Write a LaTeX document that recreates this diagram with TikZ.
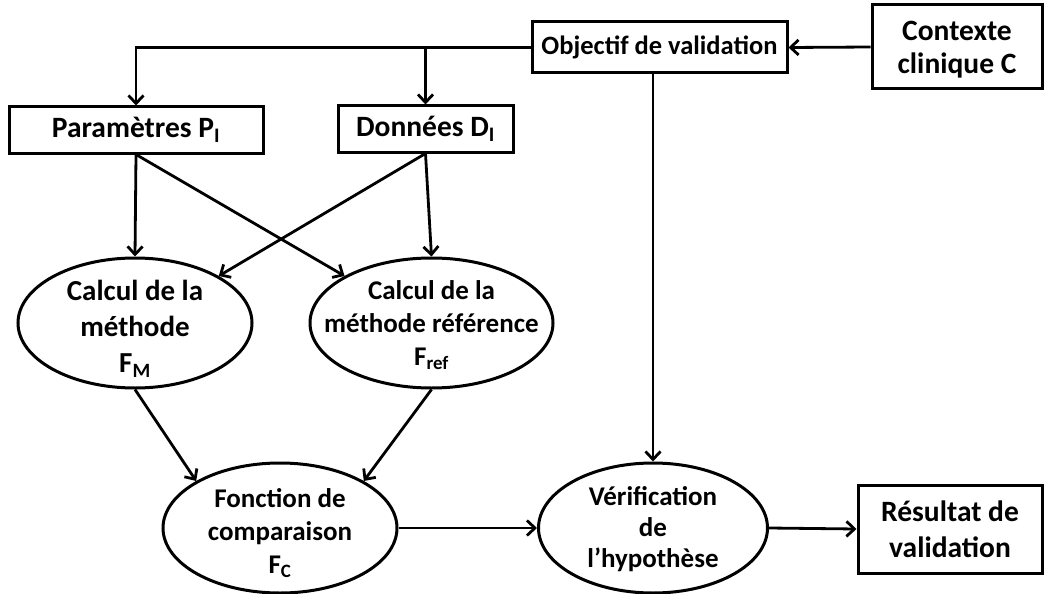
\documentclass[tikz,border=0pt]{standalone}
\usepackage{fontspec}
\setmainfont{Carlito}
\usetikzlibrary{shapes.geometric,arrows.meta}
\tikzset{
  box/.style={draw,line width=3pt,rectangle,align=center,inner sep=2pt},
  ell/.style={draw,line width=3pt,ellipse,inner sep=0pt,minimum height=130pt},
  etxt/.style={align=center,inner sep=0pt},
  arr/.style={line width=2.8pt,-{Straight Barb[length=8pt,width=15pt]}},
  txt/.style={font=\fontsize{26.5}{33}\selectfont\bfseries},
  txtb/.style={font=\fontsize{29.5}{36}\selectfont\bfseries}
}
\newcommand\sbx[1]{\textsubscript{#1}}
\newcommand\up[1]{\rule{0pt}{#1}}
\begin{document}
\begin{tikzpicture}[x=1pt,y=-1pt]
\useasboundingbox (0,0) rectangle (1045,594);
\node[box,txt,minimum width=255pt,minimum height=51pt] (obj) at (659.5,47.5) {Objectif de validation};
\node[box,minimum width=170pt,minimum height=84pt,font=\fontsize{29.5}{33}\selectfont\bfseries] (ctx) at (957,47) {\up{25pt}Contexte\\clinique C};
\node[box,txtb,minimum width=254pt,minimum height=46pt] (par) at (136,130) {Paramètres P\sbx{I}};
\node[box,txtb,minimum width=175pt,minimum height=46pt] (don) at (425.5,129) {Données D\sbx{I}};
\node[ell,minimum width=234pt,label={[etxt,yshift=-6pt,font=\fontsize{29}{36}\selectfont\bfseries]center:Calcul de la\\méthode\\F\sbx{M}}] (cm) at (135,323) {};
\node[ell,minimum width=243pt,label={[etxt,yshift=-2pt,font=\fontsize{27}{33}\selectfont\bfseries]center:Calcul de la\\méthode référence\\F\sbx{ref}}] (cr) at (431.5,323) {};
\node[ell,minimum width=234pt,label={[etxt,yshift=-5pt,font=\fontsize{27}{33}\selectfont\bfseries]center:Fonction de\\comparaison\\F\sbx{C}}] (fc) at (280,528) {};
\node[ell,minimum width=229pt,label={[etxt,yshift=-1pt,font=\fontsize{27}{31}\selectfont\bfseries]center:Vérification\\de\\l’hypothèse}] (ver) at (653,528) {};
\node[box,txtb,minimum width=184pt,minimum height=88pt] (res) at (950,529) {Résultat de\\validation};
\draw[arr] (ctx.west) -- (obj.east);
\draw[arr] (obj.west) -| (par.north);
\draw[arr] (don.north |- obj.west) -- (don.north);
\draw[arr] (ver.north |- obj.south) -- (ver.north);
\draw[arr] (par.south) -- (cm.north);
\draw[arr] (par.south) -- (cr.north west);
\draw[arr] (don.south) -- (cr.north);
\draw[arr] (don.south) -- (cm.north east);
\draw[arr] (cm.south) -- (fc.north west);
\draw[arr] (cr.south) -- (fc.north east);
\draw[arr] (fc.east) -- (ver.west);
\draw[arr] (ver.east) -- (res.west);
\end{tikzpicture}
\end{document}
